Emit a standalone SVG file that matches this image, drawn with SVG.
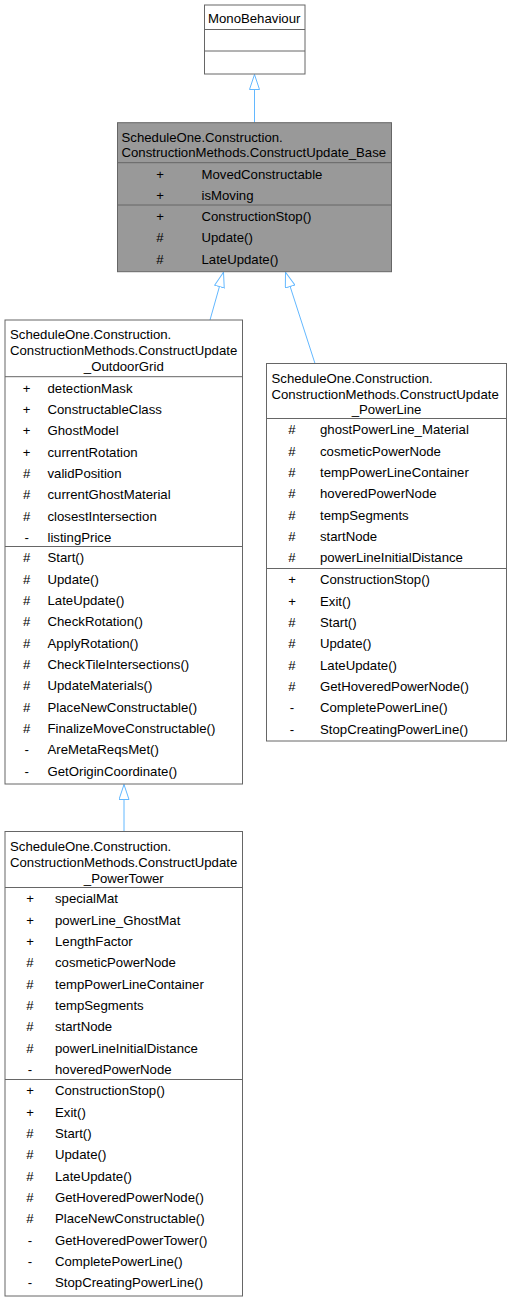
<svg xmlns="http://www.w3.org/2000/svg" width="510" height="1301" viewBox="0 0 510 1301">
<style>
text{font-family:"Liberation Sans",Arial,Helvetica,sans-serif;font-size:13.2px;fill:#000}
.box{fill:#fff;stroke:#666;stroke-width:1}
.cur{fill:#999;stroke:#666;stroke-width:1}
.div{stroke:#666;stroke-width:1}
.v{text-anchor:middle}
.c{text-anchor:middle}
.edge{fill:none;stroke:#63b8ff;stroke-width:1}
</style>
<defs>
<marker id="inh" markerUnits="userSpaceOnUse" viewBox="0 0 16 11" refX="15.5" refY="5.5" markerWidth="16" markerHeight="11" orient="auto">
<path d="M0.5,0.5 L15.5,5.5 L0.5,10.5 Z" fill="#fff" stroke="#63b8ff" stroke-width="1"/>
</marker>
</defs>
<g id="connectors">
<path class="edge" d="M254.5,122.7 L254.5,74.5" marker-end="url(#inh)"/>
<path class="edge" d="M210,320 L223.5,272.2" marker-end="url(#inh)"/>
<path class="edge" d="M315,363.5 L285.5,272.2" marker-end="url(#inh)"/>
<path class="edge" d="M124,831.5 L124,784.5" marker-end="url(#inh)"/>
</g>
<g id="MonoBehaviour">
<rect class="box" x="204.5" y="5" width="100.5" height="69"/>
<line class="div" x1="204.5" y1="29.5" x2="305" y2="29.5"/>
<line class="div" x1="204.5" y1="51" x2="305" y2="51"/>
<text x="208" y="23">MonoBehaviour</text>
</g>
<g id="ConstructUpdate_Base">
<rect class="cur" x="117.5" y="122.7" width="274" height="149"/>
<line class="div" x1="117.5" y1="162.7" x2="391.5" y2="162.7"/>
<line class="div" x1="117.5" y1="205" x2="391.5" y2="205"/>
<text x="121.5" y="141.5">ScheduleOne.Construction.</text>
<text x="121.5" y="157">ConstructionMethods.ConstructUpdate_Base</text>
<text class="v" x="160" y="178.5">+</text><text x="201.5" y="178.5">MovedConstructable</text>
<text class="v" x="160" y="199.85">+</text><text x="201.5" y="199.85">isMoving</text>
<text class="v" x="160" y="220.8">+</text><text x="201.5" y="220.8">ConstructionStop()</text>
<text class="v" x="160" y="242.15">#</text><text x="201.5" y="242.15">Update()</text>
<text class="v" x="160" y="263.5">#</text><text x="201.5" y="263.5">LateUpdate()</text>
</g>
<g id="ConstructUpdate_OutdoorGrid">
<rect class="box" x="5" y="320" width="237.5" height="464"/>
<line class="div" x1="5" y1="376.7" x2="242.5" y2="376.7"/>
<line class="div" x1="5" y1="546.5" x2="242.5" y2="546.5"/>
<text x="10" y="339">ScheduleOne.Construction.</text>
<text x="10" y="355">ConstructionMethods.ConstructUpdate</text>
<text class="c" x="123.8" y="371">_OutdoorGrid</text>
<text class="v" x="26.7" y="392.5">+</text><text x="47.5" y="392.5">detectionMask</text>
<text class="v" x="26.7" y="413.85">+</text><text x="47.5" y="413.85">ConstructableClass</text>
<text class="v" x="26.7" y="435.2">+</text><text x="47.5" y="435.2">GhostModel</text>
<text class="v" x="26.7" y="456.55">+</text><text x="47.5" y="456.55">currentRotation</text>
<text class="v" x="26.7" y="477.9">#</text><text x="47.5" y="477.9">validPosition</text>
<text class="v" x="26.7" y="499.25">#</text><text x="47.5" y="499.25">currentGhostMaterial</text>
<text class="v" x="26.7" y="520.6">#</text><text x="47.5" y="520.6">closestIntersection</text>
<text class="v" x="26.7" y="541.95">-</text><text x="47.5" y="541.95">listingPrice</text>
<text class="v" x="26.7" y="562.3">#</text><text x="47.5" y="562.3">Start()</text>
<text class="v" x="26.7" y="583.65">#</text><text x="47.5" y="583.65">Update()</text>
<text class="v" x="26.7" y="605">#</text><text x="47.5" y="605">LateUpdate()</text>
<text class="v" x="26.7" y="626.35">#</text><text x="47.5" y="626.35">CheckRotation()</text>
<text class="v" x="26.7" y="647.7">#</text><text x="47.5" y="647.7">ApplyRotation()</text>
<text class="v" x="26.7" y="669.05">#</text><text x="47.5" y="669.05">CheckTileIntersections()</text>
<text class="v" x="26.7" y="690.4">#</text><text x="47.5" y="690.4">UpdateMaterials()</text>
<text class="v" x="26.7" y="711.75">#</text><text x="47.5" y="711.75">PlaceNewConstructable()</text>
<text class="v" x="26.7" y="733.1">#</text><text x="47.5" y="733.1">FinalizeMoveConstructable()</text>
<text class="v" x="26.7" y="754.45">-</text><text x="47.5" y="754.45">AreMetaReqsMet()</text>
<text class="v" x="26.7" y="775.8">-</text><text x="47.5" y="775.8">GetOriginCoordinate()</text>
</g>
<g id="ConstructUpdate_PowerLine">
<rect class="box" x="266.5" y="363.5" width="240" height="377.5"/>
<line class="div" x1="266.5" y1="418.5" x2="506.5" y2="418.5"/>
<line class="div" x1="266.5" y1="568.5" x2="506.5" y2="568.5"/>
<text x="271.5" y="382.5">ScheduleOne.Construction.</text>
<text x="271.5" y="398.5">ConstructionMethods.ConstructUpdate</text>
<text class="c" x="386.5" y="414">_PowerLine</text>
<text class="v" x="292" y="434.3">#</text><text x="320" y="434.3">ghostPowerLine_Material</text>
<text class="v" x="292" y="455.65">#</text><text x="320" y="455.65">cosmeticPowerNode</text>
<text class="v" x="292" y="477">#</text><text x="320" y="477">tempPowerLineContainer</text>
<text class="v" x="292" y="498.35">#</text><text x="320" y="498.35">hoveredPowerNode</text>
<text class="v" x="292" y="519.7">#</text><text x="320" y="519.7">tempSegments</text>
<text class="v" x="292" y="541.05">#</text><text x="320" y="541.05">startNode</text>
<text class="v" x="292" y="562.4">#</text><text x="320" y="562.4">powerLineInitialDistance</text>
<text class="v" x="292" y="584.3">+</text><text x="320" y="584.3">ConstructionStop()</text>
<text class="v" x="292" y="605.65">+</text><text x="320" y="605.65">Exit()</text>
<text class="v" x="292" y="627">#</text><text x="320" y="627">Start()</text>
<text class="v" x="292" y="648.35">#</text><text x="320" y="648.35">Update()</text>
<text class="v" x="292" y="669.7">#</text><text x="320" y="669.7">LateUpdate()</text>
<text class="v" x="292" y="691.05">#</text><text x="320" y="691.05">GetHoveredPowerNode()</text>
<text class="v" x="292" y="712.4">-</text><text x="320" y="712.4">CompletePowerLine()</text>
<text class="v" x="292" y="733.75">-</text><text x="320" y="733.75">StopCreatingPowerLine()</text>
</g>
<g id="ConstructUpdate_PowerTower">
<rect class="box" x="5" y="831.5" width="237.5" height="464.5"/>
<line class="div" x1="5" y1="887.5" x2="242.5" y2="887.5"/>
<line class="div" x1="5" y1="1079.5" x2="242.5" y2="1079.5"/>
<text x="10" y="850.5">ScheduleOne.Construction.</text>
<text x="10" y="866.5">ConstructionMethods.ConstructUpdate</text>
<text class="c" x="123.8" y="882.5">_PowerTower</text>
<text class="v" x="30" y="903.3">+</text><text x="55" y="903.3">specialMat</text>
<text class="v" x="30" y="924.65">+</text><text x="55" y="924.65">powerLine_GhostMat</text>
<text class="v" x="30" y="946">+</text><text x="55" y="946">LengthFactor</text>
<text class="v" x="30" y="967.35">#</text><text x="55" y="967.35">cosmeticPowerNode</text>
<text class="v" x="30" y="988.7">#</text><text x="55" y="988.7">tempPowerLineContainer</text>
<text class="v" x="30" y="1010.05">#</text><text x="55" y="1010.05">tempSegments</text>
<text class="v" x="30" y="1031.4">#</text><text x="55" y="1031.4">startNode</text>
<text class="v" x="30" y="1052.75">#</text><text x="55" y="1052.75">powerLineInitialDistance</text>
<text class="v" x="30" y="1074.1">-</text><text x="55" y="1074.1">hoveredPowerNode</text>
<text class="v" x="30" y="1095.3">+</text><text x="55" y="1095.3">ConstructionStop()</text>
<text class="v" x="30" y="1116.65">+</text><text x="55" y="1116.65">Exit()</text>
<text class="v" x="30" y="1138">#</text><text x="55" y="1138">Start()</text>
<text class="v" x="30" y="1159.35">#</text><text x="55" y="1159.35">Update()</text>
<text class="v" x="30" y="1180.7">#</text><text x="55" y="1180.7">LateUpdate()</text>
<text class="v" x="30" y="1202.05">#</text><text x="55" y="1202.05">GetHoveredPowerNode()</text>
<text class="v" x="30" y="1223.4">#</text><text x="55" y="1223.4">PlaceNewConstructable()</text>
<text class="v" x="30" y="1244.75">-</text><text x="55" y="1244.75">GetHoveredPowerTower()</text>
<text class="v" x="30" y="1266.1">-</text><text x="55" y="1266.1">CompletePowerLine()</text>
<text class="v" x="30" y="1287.45">-</text><text x="55" y="1287.45">StopCreatingPowerLine()</text>
</g>
</svg>
